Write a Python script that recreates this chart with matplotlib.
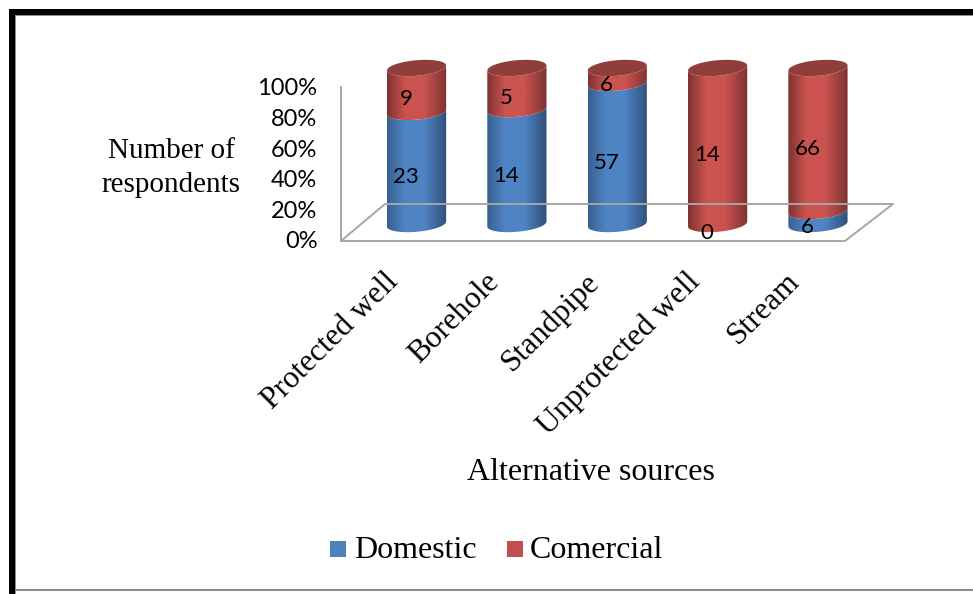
import numpy as np
import matplotlib
matplotlib.use("Agg")
import matplotlib.pyplot as plt
from matplotlib.lines import Line2D
from matplotlib.patches import PathPatch, Rectangle
from matplotlib.path import Path
from matplotlib.colors import LinearSegmentedColormap

# Respondent counts per alternative water source
categories = ["Protected well", "Borehole", "Standpipe", "Unprotected well", "Stream"]
domestic = [23, 14, 57, 0, 6]
commercial = [9, 5, 6, 14, 66]
series_names = ["Domestic", "Comercial"]
y_ticks = [0, 20, 40, 60, 80, 100]

W, H = 973, 594
SERIF = "Liberation Serif"
SANS = "Lato"
GREY = "#a6a6a6"

fig = plt.figure(figsize=(W / 100, H / 100), dpi=100)


def fx(px):
    return px / W


def fy(px):
    return 1 - px / H


def axes_px(left, top, right, bottom):
    return fig.add_axes([fx(left), fy(bottom), fx(right - left), (bottom - top) / H])


# Page border around the chart
for x0, y0, x1, y1, col in [
    (9, 9, 973, 14.5, "black"), (9, 9, 14.5, 594, "black"),
    (14.5, 14.5, 973, 16, "#8c8c8c"), (14.5, 14.5, 16, 594, "#8c8c8c"),
    (14.5, 589, 973, 591, "#8c8c8c"),
]:
    fig.add_artist(Rectangle((fx(x0), fy(y1)), fx(x1 - x0), (y1 - y0) / H,
                             transform=fig.transFigure, fc=col, ec="none"))

# Back wall axis carrying the percentage scale
wall = axes_px(341, 87, 342, 240)
wall.set_ylim(0, 100)
wall.set_xticks([])
wall.set_yticks(y_ticks)
wall.set_yticklabels([f"{t}%" for t in y_ticks], fontfamily=SANS, fontsize=17, color="black")
wall.tick_params(axis="y", length=0, pad=17)
wall.patch.set_visible(False)
for name, spine in wall.spines.items():
    spine.set_visible(name == "left")
    spine.set_color(GREY)
    spine.set_linewidth(1.4)

# Floor outline in perspective
floor = [(341, 241), (845, 241), (893, 204), (385, 204), (341, 241)]
fig.add_artist(Line2D([fx(p[0]) for p in floor], [fy(p[1]) for p in floor],
                      transform=fig.transFigure, color=GREY, lw=1.4))

# Cylinder area: one unit per category, percentages upward
ax = axes_px(416.5 - 50.15, 68, 818 + 50.15, 224)
ax.set_xlim(-0.5, 4.5)
ax.set_ylim(0, 100)
ax.axis("off")

BAR_W = 0.59
RY = 5.0
SHEAR = 1.6


def gradient(dark_l, mid, dark_r):
    return LinearSegmentedColormap.from_list(
        "cyl", [(0, dark_l), (0.3, mid), (0.62, mid), (1, dark_r)])


BLUE = gradient("#38608f", "#4f84c4", "#2f5078")
RED = gradient("#7d3331", "#cb5350", "#7c3331")
TOP_RED = "#8f3e3c"


def arc(cx, y0, t0, t1, n=50):
    t = np.linspace(t0, t1, n)
    return np.column_stack([cx + BAR_W / 2 * np.cos(t), y0 + RY * np.sin(t) + SHEAR * np.cos(t)])


def segment(cx, y_low, y_high, cmap, z):
    lower = arc(cx, y_low, np.pi, 2 * np.pi)
    upper = arc(cx, y_high, 2 * np.pi, np.pi)
    verts = np.vstack([lower, upper, lower[:1]])
    patch = PathPatch(Path(verts), transform=ax.transData, fc="none", ec="none")
    ax.add_patch(patch)
    im = ax.imshow(np.linspace(0, 1, 128)[None, :], cmap=cmap, aspect="auto", zorder=z,
                   extent=[cx - BAR_W / 2, cx + BAR_W / 2, y_low - 10, y_high + 10])
    im.set_clip_path(patch)
    im.set_clip_box(fig.bbox)


for i, (d, c) in enumerate(zip(domestic, commercial)):
    total = d + c
    d_pct = 100 * d / total
    if d > 0:
        segment(i, 0, d_pct, BLUE, 2)
    if c > 0:
        segment(i, d_pct, 100, RED, 2)
    cap = arc(i, 100, 0, 2 * np.pi)
    ax.add_patch(PathPatch(Path(cap), fc=TOP_RED, ec="none", zorder=3, clip_on=False))
    for value, mid in [(d, d_pct / 2), (c, (d_pct + 100) / 2)]:
        ax.annotate(str(value), (i, mid), xytext=(-7.6, -6.6), textcoords="offset points",
                    ha="center", va="center", fontfamily=SANS, fontsize=16, zorder=5,
                    annotation_clip=False)
ax.set_xlim(-0.5, 4.5)
ax.set_ylim(0, 100)

# Category labels slanted under the floor
for i, name in enumerate(categories):
    x_px = 384 + 100.3 * i
    fig.text(fx(x_px), fy(267), name, rotation=45, rotation_mode="anchor", ha="right", va="top",
             fontfamily=SERIF, fontsize=22.5)

fig.text(fx(171), fy(168), "Number of\nrespondents", ha="center", va="center", fontfamily=SERIF,
         fontsize=21, linespacing=1.36)
fig.text(fx(591), fy(472), "Alternative sources", ha="center", va="center", fontfamily=SERIF, fontsize=23)

# Legend keys and names
for x_key, x_txt, name, col in [(330, 354, series_names[0], "#4f81bd"), (507, 530, series_names[1], "#c0504d")]:
    fig.add_artist(Rectangle((fx(x_key), fy(557)), fx(16), 16 / H, transform=fig.transFigure,
                             fc=col, ec="none"))
    fig.text(fx(x_txt), fy(551), name, ha="left", va="center", fontfamily=SERIF, fontsize=23)

fig.savefig("out.png", dpi=100)
